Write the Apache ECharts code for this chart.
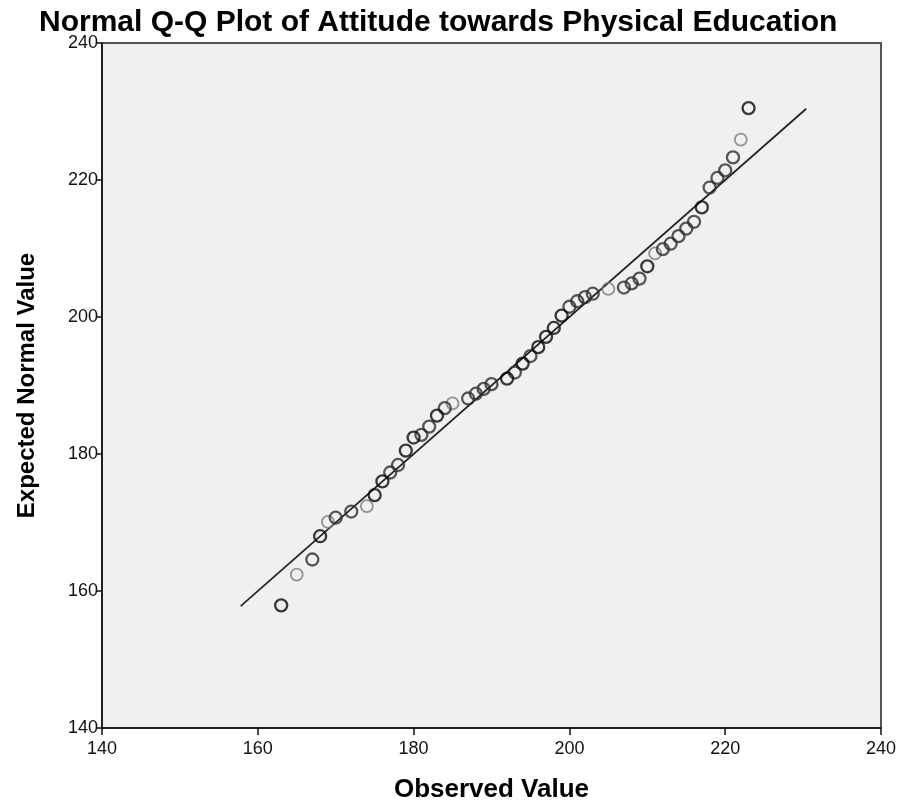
<!DOCTYPE html>
<html>
<head>
<meta charset="utf-8">
<script src="https://cdn.jsdelivr.net/npm/echarts@6/dist/echarts.min.js"></script>
<style>
html,body{margin:0;padding:0;background:#fff;}
#c{width:901px;height:802px;}
</style>
</head>
<body>
<div id="c"></div>
<script>
// Observed values (x), expected normal values (y), number of tied cases per point
const observed = [163,165,167,168,169,170,172,174,175,176,177,178,179,180,181,182,183,184,185,187,188,189,190,192,193,194,195,196,197,198,199,200,201,202,203,205,207,208,209,210,211,212,213,214,215,216,217,218,219,220,221,222,223];
const expected = [157.9,162.4,164.6,168.0,170.1,170.7,171.6,172.4,174.0,176.0,177.3,178.4,180.5,182.4,182.8,184.0,185.6,186.7,187.4,188.1,188.8,189.5,190.2,191.0,191.9,193.2,194.3,195.6,197.1,198.4,200.2,201.5,202.3,202.9,203.4,204.1,204.3,204.9,205.6,207.4,209.3,209.9,210.7,211.8,212.9,213.9,216.0,218.9,220.3,221.4,223.3,225.9,230.5];
const ties = [3,1,2,3,1,2,2,1,3,3,2,2,3,3,2,2,3,2,1,2,2,2,2,3,2,3,2,3,3,3,3,2,2,2,2,1,2,2,2,3,1,2,2,2,2,2,3,2,2,2,2,1,3];
// Reference line endpoints
const lineX = [157.8, 230.4];
const lineY = [157.8, 230.4];
const xTicks = [140,160,180,200,220,240];
const yTicks = [140,160,180,200,220,240];

const shades = {1:'#7a7a7a', 2:'#2e2e2e', 3:'#0a0a0a'};
function pts(level){
  const out=[];
  for(let i=0;i<observed.length;i++){ if(ties[i]===level) out.push([observed[i], expected[i]]); }
  return out;
}
const FONT = '"Liberation Sans",Arial,sans-serif';
const tickFont = {fontFamily:FONT, fontSize:18, color:'#111'};
const chart = echarts.init(document.getElementById('c'), null, {renderer:'canvas'});
chart.setOption({
  animation:false,
  backgroundColor:'#ffffff',
  title:{
    text:'Normal Q-Q Plot of Attitude towards Physical Education',
    left:34, top:3,
    textStyle:{fontFamily:FONT, fontWeight:'bold', fontSize:30, color:'#000'}
  },
  grid:{left:102, right:20, top:43, bottom:74, outerBoundsMode:'none', containLabel:false, show:true, backgroundColor:'#f0f0f0', borderColor:'#555', borderWidth:2},
  xAxis:{
    type:'value', min:xTicks[0], max:xTicks[xTicks.length-1], interval:20,
    name:'Observed Value', nameLocation:'middle', nameGap:49,
    nameTextStyle:{fontFamily:FONT, fontWeight:'bold', fontSize:26, color:'#000'},
    axisLine:{show:true, onZero:false, lineStyle:{color:'#111', width:1.5}},
    axisTick:{show:true, length:7, lineStyle:{color:'#111', width:1.5}},
    axisLabel:Object.assign({margin:12}, tickFont),
    splitLine:{show:false}
  },
  yAxis:{
    type:'value', min:yTicks[0], max:yTicks[yTicks.length-1], interval:20,
    name:'Expected Normal Value', nameLocation:'middle', nameGap:63,
    nameTextStyle:{fontFamily:FONT, fontWeight:'bold', fontSize:24, color:'#000'},
    axisLine:{show:true, onZero:false, lineStyle:{color:'#111', width:1.5}},
    axisTick:{show:true, length:6, lineStyle:{color:'#111', width:1.5}},
    axisLabel:Object.assign({margin:4}, tickFont),
    splitLine:{show:false}
  },
  series:[
    {type:'line', data:lineX.map((x,i)=>[x,lineY[i]]), symbol:'none', lineStyle:{color:'#222', width:1.7}, z:1, silent:true},
    ...[1,2,3].map(l=>({
      type:'scatter', data:pts(l), symbol:'circle', symbolSize:12,
      itemStyle:{color:'rgba(0,0,0,0)', borderColor:shades[l], borderWidth:l===1?1.8:2.3}, z:2+l
    }))
  ]
});
</script>
</body>
</html>
